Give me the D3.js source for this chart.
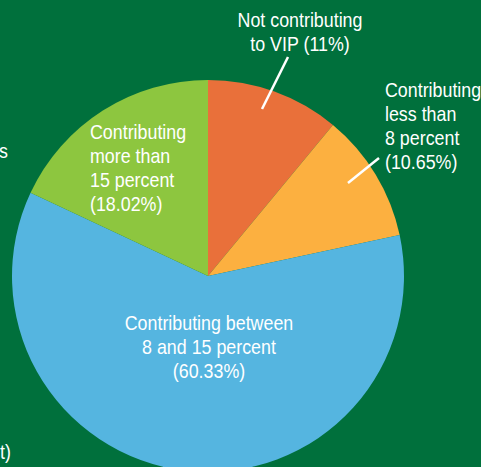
<!DOCTYPE html>
<meta charset="utf-8">
<html>
<head><title>VIP contributions pie</title>
<script src="https://d3js.org/d3.v7.min.js"></script>
<style>
    body { margin: 0; background: #00703c; }
    .lbl { fill: #fff; font-family: "Liberation Sans Narrow", "Liberation Sans", sans-serif; font-size: 21px; }
    .leader { stroke: #fff; stroke-width: 2.5; }
</style>
</head>
<body>
<script>
// slice order: clockwise from 12 o'clock
var categories = ["Not contributing to VIP", "Contributing less than 8 percent",
                  "Contributing between 8 and 15 percent", "Contributing more than 15 percent"];
var values = [11, 10.65, 60.33, 18.02];
var colors = ["#e9703a", "#fcb040", "#55b5e0", "#8dc63f"];
var labelLines = [
    ["Not contributing", "to VIP (11%)"],
    ["Contributing", "less than", "8 percent", "(10.65%)"],
    ["Contributing between", "8 and 15 percent", "(60.33%)"],
    ["Contributing", "more than", "15 percent", "(18.02%)"]
];

var W = 481, H = 467;
var cx = 208, cy = 276, R = 196;
var squeeze = 0.85; // the original type is a condensed face

var svg = d3.select("body").append("svg")
    .attr("width", W)
    .attr("height", H);

svg.append("rect").attr("width", W).attr("height", H).attr("fill", "#00703c");

var pie = d3.pie().sort(null).value(function(d) { return d; });
var arc = d3.arc().innerRadius(0).outerRadius(R);
var arcs = pie(values);

var g = svg.append("g").attr("transform", "translate(" + cx + "," + cy + ")");
g.selectAll("path")
    .data(arcs)
    .enter().append("path")
    .attr("d", arc)
    .attr("fill", function(d, i) { return colors[i]; });

function squeezed(x) {
    return "translate(" + x + ",0) scale(" + squeeze + ",1) translate(" + (-x) + ",0)";
}

// label placement (anchor point, alignment) per slice
var labelPos = [
    {x: 300, y: 27, anchor: "middle"},
    {x: 385, y: 97, anchor: "start"},
    {x: 209, y: 330, anchor: "middle"},
    {x: 90, y: 139, anchor: "start"}
];
var lineH = 24;

labelLines.forEach(function(lines, i) {
    var t = svg.append("text")
        .attr("class", "lbl")
        .attr("text-anchor", labelPos[i].anchor)
        .attr("transform", squeezed(labelPos[i].x));
    lines.forEach(function(s, j) {
        t.append("tspan")
            .attr("x", labelPos[i].x)
            .attr("y", labelPos[i].y + j * lineH)
            .text(s);
    });
});

// leader lines for the two small slices
svg.append("line").attr("class", "leader")
    .attr("x1", 288).attr("y1", 57).attr("x2", 262).attr("y2", 109);
svg.append("line").attr("class", "leader")
    .attr("x1", 379).attr("y1", 158).attr("x2", 348).attr("y2", 183);

// clipped text from the neighbouring column
svg.append("text").attr("class", "lbl").attr("text-anchor", "end")
    .attr("transform", squeezed(8))
    .attr("x", 8).attr("y", 158).text("s");
svg.append("text").attr("class", "lbl").attr("text-anchor", "end")
    .attr("transform", squeezed(11))
    .attr("x", 11).attr("y", 459).text("t)");
</script>
</body>
</html>
